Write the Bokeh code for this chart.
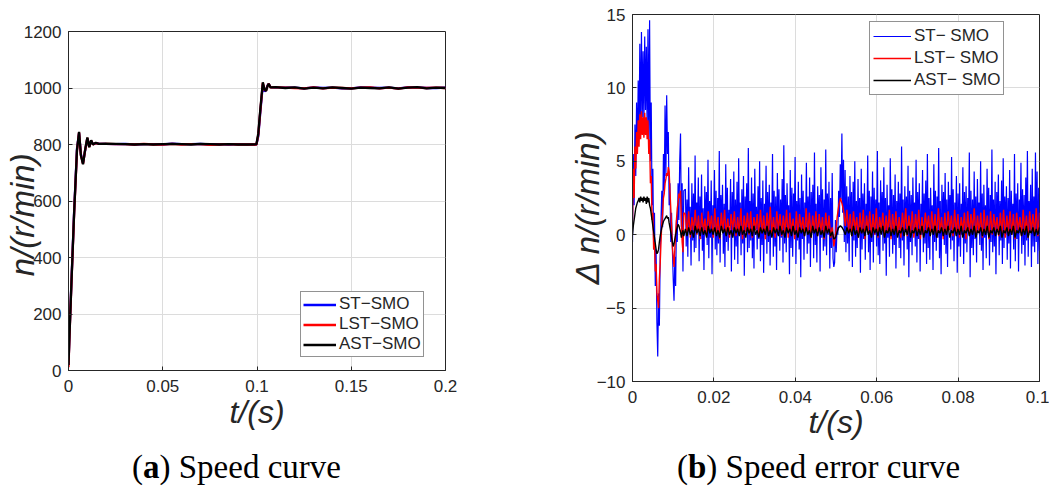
import numpy as np
from bokeh.plotting import figure
from bokeh.layouts import row, column
from bokeh.models import FixedTicker, CustomJSTickFormatter, Range1d, Div
from bokeh.embed import file_html
from bokeh.resources import INLINE

# ---------------- data: (a) speed curve ----------------
speed_t = [0, 0.0005, 0.0015, 0.003, 0.0045, 0.0056, 0.0066, 0.0077, 0.0088, 0.010,
           0.011, 0.012, 0.013, 0.0145, 0.016, 0.020, 0.025, 0.030, 0.035, 0.040,
           0.045, 0.050, 0.055, 0.060, 0.065, 0.070, 0.075, 0.080, 0.085, 0.090,
           0.095, 0.0997, 0.1007, 0.1017, 0.1031, 0.1040, 0.1048, 0.1055, 0.1062, 0.1072,
           0.110, 0.115, 0.120, 0.125, 0.130, 0.135, 0.140, 0.145, 0.150, 0.155,
           0.160, 0.165, 0.170, 0.175, 0.180, 0.185, 0.190, 0.195, 0.200]
speed_st = [20, 125, 305, 565, 785, 840, 765, 735, 778, 822, 792, 813, 801, 805, 803, 802, 801, 802, 800, 801,
            801, 800, 803, 801, 801, 802, 800, 801, 800, 801, 800, 800, 830, 910, 1012, 988, 992, 1008, 1014, 1003,
            1002, 1001, 1001, 999, 1002, 1000, 1001, 999, 999, 1002, 1001, 1000, 1001, 999, 1002, 1002, 1000, 1000, 1001]
speed_lst = [12, 118, 298, 558, 778, 843, 762, 732, 779, 823, 791, 814, 800, 805, 802, 802, 801, 801, 800, 802,
             800, 800, 802, 800, 801, 801, 799, 800, 801, 800, 800, 800, 835, 915, 1018, 993, 991, 1006, 1015, 1002,
             1002, 1001, 1000, 999, 1002, 999, 1001, 1000, 999, 1001, 1002, 999, 1001, 998, 1002, 1001, 1000, 1001, 1000]
speed_ast = [20, 120, 300, 560, 780, 845, 760, 730, 780, 825, 790, 815, 800, 806, 802, 803, 802, 801, 800, 801,
             800, 801, 802, 801, 800, 802, 801, 800, 801, 800, 800, 801, 840, 920, 1020, 995, 990, 1005, 1015, 1002,
             1003, 1000, 1002, 998, 1001, 999, 1002, 1000, 998, 1001, 1000, 999, 1002, 998, 1001, 1003, 999, 1001, 1000]

speed_xticks = [0, 0.05, 0.1, 0.15, 0.2]
speed_yticks = [0, 200, 400, 600, 800, 1000, 1200]

# ---------------- data: (b) speed error curve ----------------
err_transient_start, err_transient_end = 0.0, 0.0126
err_steady_start, err_steady_end = 0.0130, 0.1

st_err_transient = [-0.5, 5.5, 2.0, 7.5, 4.0, 9.0, 5.5, 10.5, 6.5, 13.0,
                    7.0, 13.8, 8.0, 12.5, 7.5, 13.5, 8.5, 12.8, 7.0, 14.0,
                    6.5, 14.6, 5.0, 9.0, 2.0, 4.5, -1.0, 1.5, -3.5, -1.0,
                    -6.0, -8.3, -4.0, -6.2, -1.5, 1.0, 3.0, 0.5, 5.5, 3.0,
                    8.8, 4.0, 9.5, 5.5, 7.0, 2.0, 3.5, -0.5, 1.5, -1.0,
                    -3.0, -4.5, -1.5, -3.5, 1.0, -0.5, 3.5, 1.0, 5.0, 6.9,
                    0.5, 3.5, -2.5, 3.0]
st_err_steady = [
    3.1, -0.8, 2.4, -1.5, 4.6, 0.2, 1.9, -2.1, 3.5, -0.4, 2.8, -1.2, 5.4, -0.9, 2.2, 0.4, 3.9, -1.8, 2.6, -0.3,
    4.1, -1.1, 1.8, -2.4, 3.3, 0.1, 2.9, -0.7, 5.1, -1.6, 2.3, -0.2, 3.7, -2.7, 2.0, 0.5, 4.4, -1.0, 3.0, -1.4,
    2.5, -0.6, 5.7, -1.9, 2.7, 0.3, 3.4, -1.3, 2.1, -2.2, 4.8, -0.5, 3.2, -1.1, 1.7, 0.6, 3.8, -2.5, 2.9, -0.1,
    4.3, -1.7, 2.4, -0.8, 3.6, -2.0, 5.2, 0.0, 2.2, -1.4, 3.1, -0.6, 4.0, -2.8, 2.6, 0.2, 3.5, -1.2, 5.9, -0.9,
    2.3, -0.4, 3.9, -1.6, 2.8, -2.3, 4.5, 0.4, 1.9, -1.0, 3.3, -0.3, 5.0, -1.8, 2.5, -0.7, 3.7, -2.6, 2.1, 0.1,
    4.7, -1.3, 2.9, -0.5, 3.4, -2.1, 2.2, 0.3, 5.5, -1.5, 3.0, -0.8, 2.6, -2.4, 4.2, 0.0, 3.1, -1.1, 2.4, -0.2,
    3.8, -1.9, 6.1, -0.6, 2.7, -1.2, 3.5, 0.5, 2.0, -2.7, 4.4, -0.9, 3.2, -1.5, 2.8, 0.2, 5.3, -2.0, 2.3, -0.4,
    3.6, -1.0, 2.5, -2.9, 4.1, -0.3, 3.0, -1.7, 2.2, 0.4, 4.9, -1.3, 2.6, -0.6, 3.9, -2.2, 2.9, 0.1, 3.4, -1.6,
    5.6, -0.7, 2.1, -1.9, 3.3, 0.3, 2.7, -2.5, 4.6, -0.2, 3.1, -1.1, 2.4, -0.8, 5.8, -1.4, 2.8, 0.0, 3.6, -2.3,
    2.5, -0.9, 4.2, -1.6, -2.2, -1.9, 1.0, -1.2, 0.5, 0.0, 3.0, 1.2, 4.8, 2.4, 6.9, 1.5, 5.1, -0.5, 4.4, -1.2,
    3.3, -0.6, 2.6, -1.8, 4.0, 0.2, 2.9, -2.2, 3.6, -0.4, 5.0, -1.5, 2.3, -0.9, 3.8, 0.1, 2.5, -2.6, 4.5, -1.0,
    2.8, -0.3, 3.5, -1.7, 2.1, 0.4, 5.4, -1.2, 3.0, -2.4, 2.6, -0.5, 4.3, -1.9, 3.2, 0.0, 2.4, -0.8, 5.7, -1.4,
    2.2, -2.0, 3.7, 0.3, 2.9, -1.1, 4.6, -0.6, 2.5, -2.8, 3.4, -0.2, 2.0, -1.5, 5.2, 0.5, 3.1, -1.3, 2.7, -0.7,
    4.1, -2.3, 2.3, 0.1, 3.6, -0.9, 2.8, -1.6, 6.0, -0.4, 2.4, -2.1, 3.3, 0.2, 2.6, -1.0, 4.7, -2.9, 3.0, -0.5,
    2.7, -1.4, 3.9, 0.4, 2.2, -0.8, 5.1, -1.9, 2.9, -0.3, 3.5, -2.5, 2.1, 0.0, 4.4, -1.2, 2.8, -0.6, 3.7, -2.0,
    5.5, -0.9, 2.5, -1.7, 3.2, 0.3, 2.0, -2.4, 4.8, -0.5, 3.0, -1.1, 2.6, -0.2, 5.9, -1.6, 2.3, -2.7, 3.4, 0.1,
    2.9, -0.7, 4.2, -1.3, 2.4, -2.2, 3.6, 0.5, 2.7, -1.0, 5.3, -0.4, 3.1, -1.8, 2.2, 0.2, 4.0, -2.6, 2.8, -0.8,
    3.5, -1.5, 2.1, 0.0, 4.6, -2.0, 2.9, -0.6, 3.3, -1.2, 2.5, 0.4, 5.6, -2.9, 3.0, -0.9, 2.4, -1.4, 4.3, -0.3,
    2.6, -1.9, 3.8, 0.3, 2.2, -0.7, 5.0, -1.1, 2.8, -2.4, 3.4, -0.2, 2.0, -1.6, 4.5, 0.1, 3.2, -2.1, 2.7, -0.5,
    5.8, -1.2, 2.4, -0.8, 3.6, -2.7, 2.9, 0.2, 4.1, -1.4, 2.3, -0.4, 3.7, -2.0, 5.2, -0.9, 2.6, 0.0, 3.3, -1.7,
    2.5, -0.6, 4.4, -2.3, 3.0, 0.4, 2.1, -1.0, 5.5, -1.8, 2.8, -0.3, 3.5, -2.5, 2.4, 0.1, 4.9, -1.3, 3.1, -0.7,
    2.7, -2.1, 3.9, -0.4, 5.7, -1.5, 2.3, 0.3, 3.4, -2.2, 4.5, -0.8, 2.6, -1.2, 5.6, -0.5, 4.3, -2.0, 3.2, -1.1]

lst_err_transient = [0.8, 4.5, 2.5, 6.0, 4.5, 7.0, 5.5, 7.8, 6.0, 8.2,
                     6.5, 8.4, 6.8, 8.0, 6.6, 8.3, 6.8, 8.0, 6.5, 7.8,
                     5.5, 6.5, 3.5, 4.0, 1.0, 1.5, -1.0, -0.5, -2.5, -2.0,
                     -4.0, -4.5, -5.0, -3.0, -2.0, -0.5, 0.8, 1.5, 2.5, 2.8,
                     3.5, 3.8, 4.2, 4.0, 4.6, 4.3, 3.0, 1.8, 0.5, -0.8,
                     -1.5, -2.2, -1.0, 0.2, 1.0, 1.8, 2.2, 2.8, 2.5, 3.0,
                     1.0, -0.5, -1.2, 1.5]
lst_err_steady = [
    1.4, 0.1, 1.6, -0.2, 1.2, 0.3, 1.7, 0.0, 1.3, -0.3, 1.5, 0.2, 1.1, -0.1, 1.6, 0.4, 1.3, -0.2, 1.8, 0.1,
    1.2, -0.3, 1.5, 0.2, 1.7, 0.0, 1.1, -0.2, 1.4, 0.3, 1.6, -0.1, 1.2, 0.1, 1.8, -0.3, 1.3, 0.2, 1.5, 0.0,
    1.6, -0.2, 1.2, 0.3, 1.4, -0.1, 1.7, 0.1, 1.3, -0.3, 1.5, 0.2, 1.9, 0.0, 1.2, -0.2, 1.6, 0.3, 1.4, -0.1,
    1.3, 0.1, 1.7, -0.2, 1.5, 0.2, 1.1, -0.3, 1.6, 0.0, 1.4, 0.3, 1.2, -0.1, 1.8, 0.1, 1.5, -0.2, 1.3, 0.2,
    1.6, -0.1, 1.4, 0.2, 1.2, -0.3, 1.5, 0.1, 1.3, -0.2, 0.5, -0.8, 0.0, 1.2, 2.0, 2.5, 2.1, 1.6, 0.6, 1.7,
    0.2, 1.4, -0.1, 1.6, 0.3, 1.2, -0.2, 1.5, 0.1, 1.7, -0.3, 1.3, 0.2, 1.6, -0.1, 1.4, 0.0, 1.8, -0.2, 1.2,
    0.3, 1.5, -0.1, 1.3, 0.1, 1.7, -0.3, 1.4, 0.2, 1.6, 0.0, 1.2, -0.2, 1.5, 0.3, 1.8, -0.1, 1.3, 0.1, 1.6,
    -0.2, 1.4, 0.2, 1.7, -0.3, 1.2, 0.0, 1.5, 0.3, 1.3, -0.1, 1.6, 0.1, 1.4, -0.2, 1.8, 0.2, 1.2, -0.3, 1.5,
    0.0, 1.6, 0.3, 1.3, -0.1, 1.7, 0.1, 1.4, -0.2, 1.2, 0.2, 1.5, -0.3, 1.6, 0.0, 1.4, 0.3, 1.8, -0.1, 1.3,
    0.1, 1.5, -0.2, 1.7, 0.2, 1.3, -0.3, 1.6, 0.0, 1.4, 0.3, 1.2, -0.1, 1.5, 0.1, 1.7, -0.2, 1.3, 0.2, 1.6,
    0.0, 1.4, -0.3, 1.5, 0.3, 1.2, -0.1, 1.7, 0.1, 1.3, -0.2, 1.6, 0.2, 1.4, 0.0, 1.8, -0.1, 1.5]

ast_err_transient = [0.0, 0.6, 1.0, 1.4, 1.8, 2.0, 2.2, 2.3, 2.5, 2.2,
                     2.6, 2.3, 2.5, 2.2, 2.6, 2.3, 2.5, 2.1, 2.6, 2.2,
                     2.5, 2.0, 1.8, 1.4, 1.0, 0.6, 0.2, -0.2, -0.6, -1.0,
                     -1.3, -1.2, -1.0, -0.5, -0.1, 0.2, 0.5, 0.7, 0.9, 1.0,
                     1.1, 1.2, 1.3, 1.1, 1.2, 0.8, 0.5, 0.2, -0.2, -0.5,
                     -0.8, -0.6, -0.3, 0.0, 0.3, 0.5, 0.7, 0.6, 0.4, 0.2,
                     -0.2, 0.1, 0.3, -0.1]
ast_err_steady = [
    0.4, -0.1, 0.5, 0.0, 0.3, -0.2, 0.6, 0.1, 0.4, -0.1, 0.5, 0.0, 0.3, -0.2, 0.6, 0.1, 0.4, 0.0, 0.5, -0.1,
    0.3, -0.2, 0.6, 0.1, 0.4, -0.1, 0.5, 0.0, 0.3, -0.2, 0.5, 0.1, 0.4, -0.1, 0.6, 0.0, 0.3, -0.2, 0.5, 0.1,
    0.4, -0.1, 0.6, 0.0, 0.3, -0.2, 0.5, 0.1, 0.4, 0.0, 0.6, -0.1, 0.3, -0.2, 0.5, 0.1, 0.4, -0.1, 0.6, 0.0,
    0.3, -0.2, 0.5, 0.1, 0.4, -0.1, 0.6, 0.0, 0.3, -0.2, 0.5, 0.1, 0.4, -0.1, 0.5, 0.0, 0.3, -0.2, 0.6, 0.1,
    0.4, -0.1, 0.5, 0.0, 0.3, -0.2, 0.6, 0.1, 0.4, -0.1, 0.2, -0.3, -0.2, 0.2, 0.5, 0.6, 0.5, 0.3, 0.0, 0.5,
    0.1, 0.4, -0.1, 0.6, 0.0, 0.3, -0.2, 0.5, 0.1, 0.4, -0.1, 0.6, 0.0, 0.3, -0.2, 0.5, 0.1, 0.4, -0.1, 0.5,
    0.0, 0.6, -0.2, 0.3, 0.1, 0.5, -0.1, 0.4, 0.0, 0.6, -0.2, 0.3, 0.1, 0.5, -0.1, 0.4, 0.0, 0.6, -0.2, 0.3,
    0.1, 0.5, -0.1, 0.4, 0.0, 0.6, -0.2, 0.3, 0.1, 0.5, -0.1, 0.4, 0.0, 0.6, -0.2, 0.3, 0.1, 0.5, -0.1, 0.4,
    0.0, 0.6, -0.2, 0.3, 0.1, 0.5, -0.1, 0.4, 0.0, 0.6, -0.2, 0.3, 0.1, 0.5, -0.1, 0.4, 0.0, 0.6, -0.2, 0.3,
    0.1, 0.5, -0.1, 0.4, 0.0, 0.6, -0.2, 0.3, 0.1, 0.5, -0.1, 0.4, 0.0, 0.6, -0.2, 0.3, 0.1, 0.5, -0.1, 0.4,
    0.0, 0.6, -0.2, 0.3, 0.1, 0.5, -0.1, 0.4, 0.0, 0.6, -0.2, 0.3, 0.1, 0.5, -0.1, 0.4, 0.0, 0.5]

err_xticks = [0, 0.02, 0.04, 0.06, 0.08, 0.1]
err_yticks = [-10, -5, 0, 5, 10, 15]

series_names_a = ["ST\u2212SMO", "LST\u2212SMO", "AST\u2212SMO"]
series_names_b = ["ST\u2212 SMO", "LST\u2212 SMO", "AST\u2212 SMO"]
series_colors = ["#0000ff", "#ff0000", "#000000"]


def time_grid(transient, steady):
    t1 = np.linspace(err_transient_start, err_transient_end, len(transient))
    t2 = np.linspace(err_steady_start, err_steady_end, len(steady))
    return np.concatenate([t1, t2]), np.concatenate([transient, steady])


TXT = "#262626"
SANS = "Liberation Sans"
NB = "\u00a0"
fmt = CustomJSTickFormatter(code="return tick.toString();")


def style(p, xticks, yticks, xlabel, ylabel, xstand, ystand):
    p.xaxis.ticker = FixedTicker(ticks=xticks)
    p.yaxis.ticker = FixedTicker(ticks=yticks)
    p.xaxis.formatter = fmt
    for ax in (p.xaxis, p.yaxis):
        ax.major_label_text_font = SANS
        ax.major_label_text_font_size = "17px"
        ax.major_label_text_color = TXT
        ax.axis_line_color = TXT
        ax.major_tick_line_color = TXT
        ax.major_tick_in = 4
        ax.major_tick_out = 0
        ax.minor_tick_line_color = None
        ax.axis_label_text_font = SANS
        ax.axis_label_text_font_style = "italic"
        ax.axis_label_text_color = TXT
    p.xaxis.axis_label = xlabel
    p.yaxis.axis_label = ylabel
    p.xaxis.axis_label_text_font_size = "32px"
    p.yaxis.axis_label_text_font_size = "33px"
    p.xaxis.axis_label_standoff = xstand
    p.yaxis.axis_label_standoff = ystand
    p.xaxis.major_label_standoff = 9
    p.yaxis.major_label_standoff = 7
    p.grid.grid_line_color = "#dcdcdc"
    p.grid.grid_line_width = 1
    p.outline_line_color = TXT
    p.outline_line_alpha = 1
    p.background_fill_color = "white"
    p.border_fill_color = "white"


def style_legend(lg, glyph_w, row_h, pad):
    lg.label_text_font = SANS
    lg.label_text_font_size = "17px"
    lg.label_text_color = TXT
    lg.glyph_width = glyph_w
    lg.glyph_height = row_h
    lg.label_height = row_h
    lg.label_standoff = 3
    lg.spacing = 0
    lg.padding = pad
    lg.margin = 0
    lg.border_line_color = TXT
    lg.border_line_width = 1
    lg.background_fill_alpha = 1


def caption(letter, rest, pad_left, width):
    html = ('<div style="padding-left:%dpx;padding-top:4px;font-family:\'Liberation Serif\';'
            'font-size:33px;line-height:33px;color:#000;white-space:nowrap">(<b>%s</b>) %s</div>'
            % (pad_left, letter, rest))
    return Div(text=html, width=width, height=39, margin=(0, 0, 0, 0))


# ---------------- figure (a) ----------------
pa = figure(width=559, height=447, output_backend="svg", toolbar_location=None,
            x_range=Range1d(0, 0.2), y_range=Range1d(0, 1200), frame_align=False,
            min_border_left=66, min_border_right=114, min_border_top=31, min_border_bottom=77)
style(pa, speed_xticks, speed_yticks, "t/(s)", "n/(r/min)" + NB * 3, -1, -20)
for ys, name, col in zip([speed_st, speed_lst, speed_ast], series_names_a, series_colors):
    pa.line(speed_t, ys, line_color=col, line_width=2.3, legend_label=name)
pa.legend.location = (232, 13)
style_legend(pa.legend, 33, 19, 2)

# ---------------- figure (b) ----------------
pb = figure(width=490, height=447, output_backend="svg", toolbar_location=None,
            x_range=Range1d(0, 0.1), y_range=Range1d(-10, 15), frame_align=False,
            min_border_left=73, min_border_right=10, min_border_top=14, min_border_bottom=66)
style(pb, err_xticks, err_yticks, "t/(s)", "\u0394 n/(r/min)" + NB * 2, -2, -12)
for (tr, sd), name, col, lw in zip([(st_err_transient, st_err_steady),
                                    (lst_err_transient, lst_err_steady),
                                    (ast_err_transient, ast_err_steady)],
                                   series_names_b, series_colors, [1.2, 1.4, 1.4]):
    tt, vv = time_grid(tr, sd)
    pb.line(tt, vv, line_color=col, line_width=lw, legend_label=name)
pb.legend.location = (237, 286)
style_legend(pb.legend, 38, 22, 3)

cap_a = caption("a", "Speed curve", 132, 559)
cap_b = caption("b", "Speed error curve", 118, 490)

layout = column(row(pa, pb), row(cap_a, cap_b))
open("out.html", "w").write(file_html(layout, INLINE))
